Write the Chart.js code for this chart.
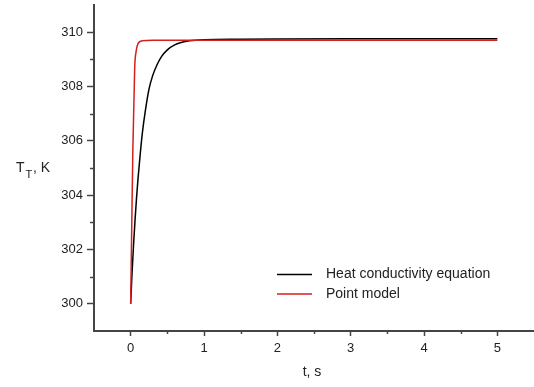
<!DOCTYPE html>
<html>
<head>
<meta charset="utf-8">
<script src="https://cdn.jsdelivr.net/npm/chart.js@4"></script>
<style>
  html, body { margin: 0; padding: 0; background: #fff; }
  .chart { width: 534px; height: 387px; }
</style>
</head>
<body>
<div class="chart"><canvas id="chart"></canvas></div>
<script>
const heatTime = [0, 0.02, 0.04, 0.06, 0.08, 0.1, 0.13, 0.16, 0.2, 0.25, 0.3, 0.36, 0.42, 0.5, 0.6, 0.7, 0.8, 1, 1.5, 2, 3, 4, 5]
const heatTemp = [300, 301.2, 302.2, 303.1, 303.9, 304.6, 305.5, 306.3, 307.1, 307.9, 308.4, 308.8, 309.1, 309.35, 309.53, 309.63, 309.68, 309.72, 309.74, 309.75, 309.76, 309.76, 309.76]

const pointTime = [0, 0.015, 0.03, 0.055, 0.075, 0.09, 0.11, 0.155, 0.3, 1, 2, 3, 4, 5]
const pointTemp = [300, 302.9, 305.7, 308.7, 309.3, 309.5, 309.62, 309.68, 309.7, 309.7, 309.7, 309.7, 309.7, 309.7]

const seriesLabels = ['Heat conductivity equation', 'Point model']
const seriesColors = ['#000000', '#d41f1f']

const xTitle = 't, s'
const axisColor = '#444'
const textColor = '#222'
const fontFamily = 'Arial, "Liberation Sans", sans-serif'

function toPoints(xs, ys) {
  return xs.map((x, i) => ({ x: x, y: ys[i] }))
}

const isMajor = (v) => Math.abs(v - Math.round(v)) < 1e-6

// minor ticks, axis titles and the legend
const extrasPlugin = {
  id: 'extras',
  afterDraw(chart) {
    const ctx = chart.ctx
    const { x, y } = chart.scales
    const area = chart.chartArea
    ctx.save()
    ctx.strokeStyle = axisColor
    ctx.lineWidth = 1.5
    ctx.beginPath()
    for (let v = 0.5; v < x.max; v += 1) {
      const px = Math.round(x.getPixelForValue(v)) + 0.5
      ctx.moveTo(px, area.bottom)
      ctx.lineTo(px, area.bottom + 3)
    }
    for (let v = y.min + 2; v < y.max; v += 2) {
      const py = Math.round(y.getPixelForValue(v)) + 0.5
      ctx.moveTo(area.left, py)
      ctx.lineTo(area.left - 4, py)
    }
    ctx.stroke()

    ctx.fillStyle = textColor
    ctx.textBaseline = 'alphabetic'
    ctx.font = '14px ' + fontFamily
    ctx.textAlign = 'center'
    ctx.fillText(xTitle, 312, 376)

    // y title: T with subscript T
    ctx.textAlign = 'left'
    ctx.font = '14px ' + fontFamily
    ctx.fillText('T', 16, 172)
    ctx.font = '11px ' + fontFamily
    ctx.fillText('T', 25.5, 178)
    ctx.font = '14px ' + fontFamily
    ctx.fillText(', K', 33, 172)

    // legend
    chart.data.datasets.forEach((ds, i) => {
      const ly = 274.5 + i * 19.5
      ctx.strokeStyle = ds.borderColor
      ctx.lineWidth = 1.5
      ctx.beginPath()
      ctx.moveTo(277, ly)
      ctx.lineTo(312, ly)
      ctx.stroke()
      ctx.fillStyle = textColor
      ctx.font = '14px ' + fontFamily
      ctx.textBaseline = 'middle'
      ctx.fillText(ds.label, 326, ly)
    })
    ctx.restore()
  },
}

const datasets = [
  {
    label: seriesLabels[0],
    data: toPoints(heatTime, heatTemp),
    borderColor: seriesColors[0],
    order: 1,
  },
  {
    label: seriesLabels[1],
    data: toPoints(pointTime, pointTemp),
    borderColor: seriesColors[1],
    order: 0,
  },
].map((d) => ({
  ...d,
  showLine: true,
  borderWidth: 1.5,
  pointRadius: 0,
  pointHoverRadius: 0,
  cubicInterpolationMode: 'monotone',
  fill: false,
}))

new Chart(document.getElementById('chart'), {
  type: 'scatter',
  data: { datasets: datasets },
  plugins: [extrasPlugin],
  options: {
    responsive: true,
    maintainAspectRatio: false,
    animation: false,
    layout: { padding: { top: 5, right: 0, left: 0, bottom: 0 } },
    plugins: {
      legend: { display: false },
      tooltip: { enabled: false },
    },
    scales: {
      x: {
        type: 'linear',
        min: -0.5,
        max: 5.5,
        afterFit: (scale) => {
          scale.height = 56
          scale.paddingLeft = 0
          scale.paddingRight = 0
        },
        border: { color: axisColor, width: 2 },
        grid: {
          drawOnChartArea: false,
          tickLength: 5,
          tickWidth: 1.5,
          tickColor: axisColor,
        },
        ticks: {
          stepSize: 0.5,
          maxRotation: 0,
          autoSkip: false,
          padding: 5,
          color: textColor,
          font: { size: 13, family: fontFamily },
          callback: (v) => (isMajor(v) && v >= 0 && v <= 5 ? String(Math.round(v)) : null),
        },
      },
      y: {
        type: 'linear',
        min: 299,
        max: 311,
        afterFit: (scale) => {
          scale.width = 94
          scale.paddingTop = 0
          scale.paddingBottom = 0
        },
        border: { color: axisColor, width: 2 },
        grid: {
          drawOnChartArea: false,
          tickLength: 7,
          tickWidth: 1.5,
          tickColor: axisColor,
        },
        ticks: {
          stepSize: 1,
          autoSkip: false,
          padding: 4,
          color: textColor,
          font: { size: 13, family: fontFamily },
          callback: (v) => (isMajor(v / 2) && v >= 300 && v <= 310 ? String(v) : null),
        },
      },
    },
  },
})
</script>
</body>
</html>
